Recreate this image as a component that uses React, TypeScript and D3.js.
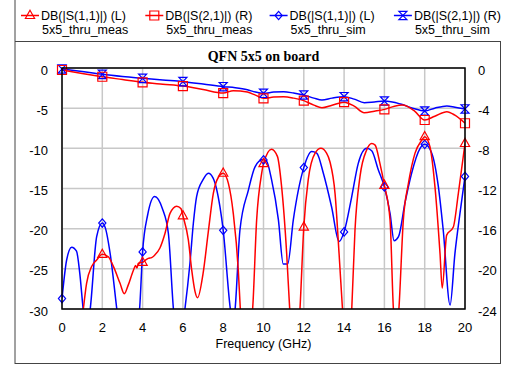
import React from 'react';
import * as d3 from 'd3';

const xTicks = [0, 2, 4, 6, 8, 10, 12, 14, 16, 18, 20];
const leftTicks = [0, -5, -10, -15, -20, -25, -30];
const rightTicks = [0, -4, -8, -12, -16, -20, -24];

const titleText = 'QFN 5x5 on board';
const xLabel = 'Frequency (GHz)';

// DB(|S(1,1)|) 5x5_thru_meas  (left axis)
const s11Meas: [number, number][] = [
  [0, -40], [0.5, -42], [0.9, -34], [1.06, -30], [1.22, -26.8], [1.47, -24.7], [1.72, -23.9], [2.0, -23.2],
  [2.3, -23.5], [2.55, -24.7], [2.88, -26.8], [3.09, -28.1], [3.29, -27.0], [3.54, -25.2], [3.65, -24.6],
  [3.72, -24.9], [3.79, -24.3], [4.0, -24.2], [4.1, -24.0], [4.28, -23.7], [4.45, -23.6], [4.6, -23.3],
  [4.86, -22.4], [5.11, -20.6], [5.36, -18.1], [5.69, -17.2], [5.9, -17.5], [6.0, -18.4], [6.27, -21.4],
  [6.44, -25.2], [6.6, -27.8], [6.73, -28.6], [7.0, -25.6], [7.26, -20.4], [7.51, -15.6], [7.76, -13.6],
  [8.0, -13.1], [8.26, -14.4], [8.5, -18.1], [8.75, -25.2], [8.85, -30], [9.1, -36], [9.46, -30],
  [9.66, -18.9], [9.91, -13.1], [10.0, -11.9], [10.4, -10.1], [10.69, -11.0], [10.9, -14.8], [11.15, -23.1],
  [11.3, -30], [11.55, -38], [11.81, -30], [12.0, -19.8], [12.22, -13.9], [12.56, -10.6], [12.85, -10.0],
  [13.13, -10.6], [13.3, -11.7], [13.55, -15.6], [13.75, -23.1], [13.92, -30], [14.15, -38], [14.38, -30],
  [14.54, -20.2], [14.79, -13.5], [15.12, -10.2], [15.37, -9.4], [15.54, -9.6], [15.78, -11.9], [16.0, -14.6],
  [16.28, -18.9], [16.44, -29.7], [16.58, -34], [16.72, -30], [16.94, -18.9], [17.19, -14.4], [17.52, -10.6],
  [17.85, -9.0], [18.0, -8.55], [18.26, -9.8], [18.51, -14.8], [18.76, -23.1], [18.87, -27.4], [19.09, -20.8],
  [19.42, -19.8], [19.67, -15.6], [20.0, -9.4],
];

// DB(|S(1,1)|) 5x5_thru_sim  (left axis)
const s11Sim: [number, number][] = [
  [0, -28.7], [0.23, -23.9], [0.48, -22.3], [0.72, -22.8], [0.88, -25.5], [1.05, -30], [1.2, -33], [1.4, -30],
  [1.72, -21.0], [2.0, -19.3], [2.15, -19.9], [2.39, -23.1], [2.72, -30], [3.2, -40], [3.85, -30], [4.0, -22.9],
  [4.25, -18.3], [4.6, -16.0], [4.98, -17.5], [5.28, -20.6], [5.53, -30], [5.8, -35], [6.1, -30], [6.35, -24.3],
  [6.52, -19.3], [6.68, -16.0], [7.0, -13.9], [7.26, -13.1], [7.5, -13.7], [7.84, -17.3], [8.0, -20.2],
  [8.34, -29.7], [8.47, -32], [8.59, -30], [8.83, -20.2], [9.25, -15.2], [9.58, -12.3], [9.96, -11.4],
  [10.15, -11.6], [10.4, -13.9], [10.74, -18.9], [10.98, -24.4], [11.2, -24.4], [11.48, -18.9], [12.0, -12.4],
  [12.39, -10.4], [12.64, -10.6], [12.97, -13.1], [13.38, -17.3], [13.75, -21.6], [14.0, -20.4], [14.38, -16.0],
  [14.7, -11.9], [15.12, -10.0], [15.37, -10.3], [15.7, -12.7], [16.0, -14.8], [16.28, -18.1], [16.48, -21.5],
  [16.7, -21.0], [17.02, -16.8], [17.35, -13.1], [17.77, -10.0], [18.0, -9.5], [18.35, -10.6], [18.68, -14.8],
  [18.92, -20.2], [19.26, -29.5], [19.5, -23.1], [19.75, -18.1], [20.0, -13.5],
];

// DB(|S(2,1)|) 5x5_thru_meas  (right axis)
const s21Meas: [number, number][] = [
  [0, -0.2], [1, -0.55], [2, -0.87], [3, -1.15], [4, -1.43], [5, -1.62], [6, -1.8], [7, -2.15], [8, -2.5],
  [8.5, -2.26], [9.2, -2.4], [9.6, -2.7], [10, -3.02], [10.5, -2.9], [11, -2.86], [11.5, -3.0], [12, -3.25],
  [12.5, -3.7], [12.9, -3.95], [13.4, -3.7], [14, -3.4], [14.5, -3.8], [15, -4.45], [15.5, -4.3], [16, -4.12],
  [16.5, -3.8], [16.9, -3.69], [17.5, -4.3], [18, -5.18], [18.5, -4.8], [19.1, -4.35], [19.5, -4.7], [20, -5.5],
];

// DB(|S(2,1)|) 5x5_thru_sim  (right axis)
const s21Sim: [number, number][] = [
  [0, -0.1], [1, -0.35], [2, -0.63], [3, -0.85], [4, -1.03], [5, -1.2], [6, -1.36], [7, -1.6], [8, -1.86],
  [8.6, -1.96], [9.2, -2.16], [9.6, -2.4], [10, -2.52], [10.5, -2.4], [11, -2.36], [11.5, -2.5], [12, -2.69],
  [12.5, -3.0], [12.9, -3.19], [13.4, -3.0], [14, -2.86], [14.5, -3.1], [15, -3.45], [15.5, -3.38], [16, -3.29],
  [16.8, -3.59], [17.4, -4.0], [18, -4.28], [18.5, -4.0], [19.1, -3.78], [19.5, -3.9], [20, -4.08],
];

const legendLine1 = ['DB(|S(1,1)|) (L)', 'DB(|S(2,1)|) (R)', 'DB(|S(1,1)|) (L)', 'DB(|S(2,1)|) (R)'];
const legendLine2 = ['5x5_thru_meas', '5x5_thru_meas', '5x5_thru_sim', '5x5_thru_sim'];

const RED = '#ff0000';
const BLUE = '#0000ff';
const SANS = '"Liberation Sans", Arial, sans-serif';
const SERIF = '"Liberation Serif", "Times New Roman", serif';

const W = 505, H = 365;
const plot = { left: 62, right: 465, top: 68, bottom: 309 };

const x = d3.scaleLinear().domain([0, 20]).range([plot.left, plot.right]);
const yL = d3.scaleLinear().domain([-30, 0]).range([plot.bottom, plot.top]);
const yR = d3.scaleLinear().domain([-24, 0]).range([plot.bottom, plot.top]);

function interp(data: [number, number][], f: number): number {
  for (let i = 0; i < data.length - 1; i++) {
    const [f0, v0] = data[i];
    const [f1, v1] = data[i + 1];
    if (f >= f0 && f <= f1) return v0 + ((v1 - v0) * (f - f0)) / (f1 - f0);
  }
  return data[data.length - 1][1];
}

const markerPaths: Record<string, string> = {
  triangle: 'M0,-5.2L4.6,3L-4.6,3Z',
  square: 'M-4.5,-4.5L4.5,-4.5L4.5,4.5L-4.5,4.5Z',
  diamond: 'M0,-4.2L3.6,0L0,4.2L-3.6,0Z',
  hourglass: 'M-4,-4.2L4,-4.2L-4,4.2L4,4.2Z',
};

const series = [
  { data: s11Meas, color: RED, marker: 'triangle', axis: 'L' },
  { data: s21Meas, color: RED, marker: 'square', axis: 'R' },
  { data: s11Sim, color: BLUE, marker: 'diamond', axis: 'L' },
  { data: s21Sim, color: BLUE, marker: 'hourglass', axis: 'R' },
];

export default function App() {
  const drawOrder = [2, 0, 3, 1];
  return (
    <svg width={W} height={H} style={{ position: 'absolute', left: 0, top: 0, background: '#fff' }}>
      <defs>
        <clipPath id="plotclip">
          <rect x={plot.left} y={plot.top} width={plot.right - plot.left} height={plot.bottom - plot.top} />
        </clipPath>
      </defs>
      <rect x={0} y={0} width={W} height={H} fill="#fff" />
      {/* outer frame */}
      <line x1={15} x2={15} y1={0} y2={364} stroke="#444" strokeWidth={1} />
      <line x1={15} x2={501} y1={41.5} y2={41.5} stroke="#444" strokeWidth={1} />
      <line x1={15} x2={501} y1={363.5} y2={363.5} stroke="#444" strokeWidth={1} />
      <line x1={500.5} x2={500.5} y1={41.5} y2={364} stroke="#444" strokeWidth={1} />

      {/* legend */}
      {series.map((s, i) => {
        const lx = 21 + i * 124.3;
        return (
          <g key={'leg' + i}>
            <line x1={lx} x2={lx + 18} y1={15.5} y2={15.5} stroke={s.color} strokeWidth={1.5} />
            <path d={markerPaths[s.marker]} transform={`translate(${lx + 9},15.5)`} fill="none" stroke={s.color} strokeWidth={1.2} />
            <text x={lx + 20} y={19.5} fontFamily={SANS} fontSize={12.5} fill="#000">{legendLine1[i]}</text>
            <text x={lx + 21} y={34} fontFamily={SANS} fontSize={12.5} fill="#000">{legendLine2[i]}</text>
          </g>
        );
      })}

      {/* title */}
      <text x={(plot.left + plot.right) / 2} y={60.5} textAnchor="middle" fontFamily={SERIF} fontWeight="bold" fontSize={14}>{titleText}</text>

      {/* grid */}
      {xTicks.map(t => (
        <line key={'gx' + t} x1={x(t)} x2={x(t)} y1={plot.top} y2={plot.bottom} stroke="#c8c8c8" strokeWidth={1.5} />
      ))}
      {leftTicks.map(t => (
        <line key={'gy' + t} x1={plot.left} x2={plot.right} y1={yL(t)} y2={yL(t)} stroke="#c8c8c8" strokeWidth={1.5} />
      ))}

      {/* curves */}
      <g clipPath="url(#plotclip)">
        {drawOrder.map(i => {
          const s = series[i];
          const ys = s.axis === 'L' ? yL : yR;
          const line = d3.line<[number, number]>().x(d => x(d[0])).y(d => ys(d[1])).curve(d3.curveMonotoneX);
          return <path key={'c' + i} d={line(s.data) || ''} fill="none" stroke={s.color} strokeWidth={1.5} />;
        })}
      </g>

      {/* markers */}
      {drawOrder.map(i => {
        const s = series[i];
        const ys = s.axis === 'L' ? yL : yR;
        const dom = ys.domain();
        return (
          <g key={'m' + i}>
            {xTicks.map(f => {
              const v = interp(s.data, f);
              if (v < dom[0] || v > dom[1]) return null;
              return (
                <path key={f} d={markerPaths[s.marker]} transform={`translate(${x(f)},${ys(v)})`} fill="none" stroke={s.color} strokeWidth={1.2} />
              );
            })}
          </g>
        );
      })}

      {/* plot border */}
      <rect x={plot.left} y={plot.top} width={plot.right - plot.left} height={plot.bottom - plot.top} fill="none" stroke="#000" strokeWidth={1.5} />

      {/* tick labels */}
      {leftTicks.map(t => (
        <text key={'tl' + t} x={48} y={yL(t) + 6.5} textAnchor="end" fontFamily={SANS} fontSize={13}>{t}</text>
      ))}
      {rightTicks.map(t => (
        <text key={'tr' + t} x={478} y={yR(t) + 6.5} textAnchor="start" fontFamily={SANS} fontSize={13}>{t}</text>
      ))}
      {xTicks.map(t => (
        <text key={'tx' + t} x={x(t)} y={331.5} textAnchor="middle" fontFamily={SANS} fontSize={13}>{t}</text>
      ))}
      <text x={(plot.left + plot.right) / 2} y={348} textAnchor="middle" fontFamily={SANS} fontSize={12.5}>{xLabel}</text>
    </svg>
  );
}
